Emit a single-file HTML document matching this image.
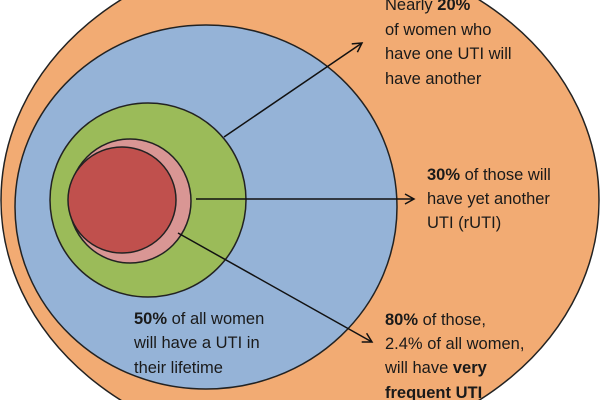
<!DOCTYPE html>
<html><head><meta charset="utf-8"><style>
html,body{margin:0;padding:0;background:#fff;width:600px;height:400px;overflow:hidden;}
svg{display:block;overflow:hidden;}
text{font-family:"Liberation Sans",sans-serif;font-size:16.5px;fill:#1a1a1a;}
</style></head><body>
<svg width="600" height="400" viewBox="0 0 600 400" xmlns="http://www.w3.org/2000/svg">
<defs><marker id="a" markerWidth="12" markerHeight="12" refX="10" refY="6" orient="auto" markerUnits="userSpaceOnUse"><path d="M1,1 L10,6 L1,11" fill="none" stroke="#111" stroke-width="1.5"/></marker></defs>
<ellipse cx="300" cy="200" rx="299" ry="250" fill="#F2AB73" stroke="#222" stroke-width="1.5"/>
<ellipse cx="206" cy="207" rx="191" ry="182" fill="#95B3D7" stroke="#222" stroke-width="1.5"/>
<ellipse cx="148" cy="200" rx="98" ry="97" fill="#9BBB59" stroke="#222" stroke-width="1.5"/>
<ellipse cx="130" cy="201" rx="61" ry="62" fill="#D99694" stroke="#222" stroke-width="1.5"/>
<ellipse cx="122" cy="200" rx="54" ry="53" fill="#C0504D" stroke="#222" stroke-width="1.5"/>
<g stroke="#111" stroke-width="1.5" fill="none">
<line x1="224" y1="137" x2="362" y2="43" marker-end="url(#a)"/>
<line x1="196" y1="199" x2="414" y2="199" marker-end="url(#a)"/>
<line x1="178" y1="233" x2="372" y2="342" marker-end="url(#a)"/>
</g>
<text x="385" y="10">Nearly <tspan font-weight="bold">20%</tspan></text>
<text x="385" y="35">of women who</text>
<text x="385" y="59">have one UTI will</text>
<text x="385" y="84">have another</text>
<text x="427" y="180"><tspan font-weight="bold">30%</tspan> of those will</text>
<text x="427" y="204">have yet another</text>
<text x="427" y="228">UTI (rUTI)</text>
<text x="385" y="325"><tspan font-weight="bold">80%</tspan> of those,</text>
<text x="385" y="349">2.4% of all women,</text>
<text x="385" y="373">will have <tspan font-weight="bold">very</tspan></text>
<text x="385" y="398" font-weight="bold">frequent UTI</text>
<text x="134" y="324"><tspan font-weight="bold">50%</tspan> of all women</text>
<text x="134" y="348">will have a UTI in</text>
<text x="134" y="373">their lifetime</text>
</svg>
</body></html>
